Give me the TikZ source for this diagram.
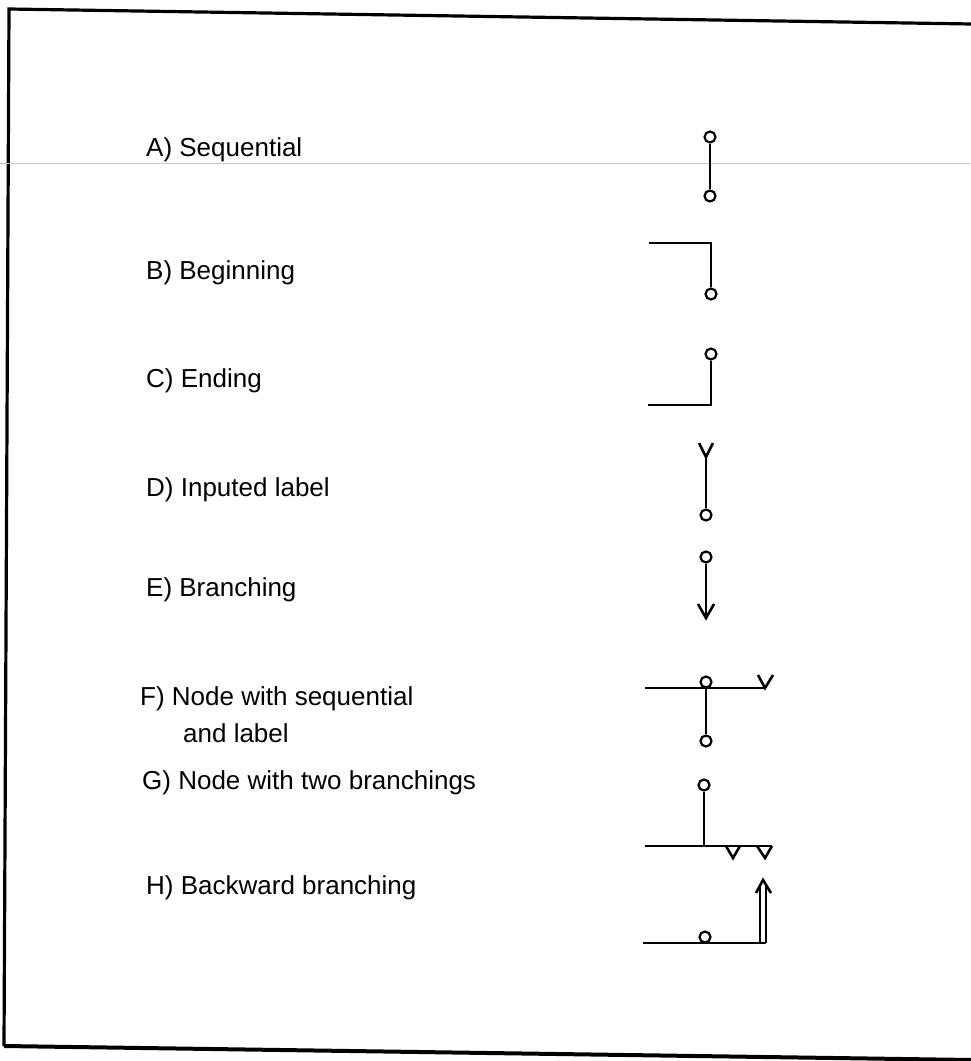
\documentclass[tikz,border=0pt]{standalone}
\usepackage{fontspec}
\setmainfont{Liberation Sans}
\begin{document}
\begin{tikzpicture}[x=1pt,y=-1pt,line join=miter,
  frame/.style={line width=3.2pt},
  sym/.style={line width=2.6pt},
  pin/.style={circle,draw,line width=2.2pt,minimum size=11pt,inner sep=0pt},
  lab/.style={anchor=base west,font=\fontsize{26}{37}\selectfont,inner sep=0pt,align=left}]
\useasboundingbox (0,0) rectangle (970,1061);
% frame
\coordinate (tr) at (972,24);
\coordinate (tl) at (9,9);
\coordinate (bl) at (4,1046);
\coordinate (br) at (972,1060);
\draw[frame] (tr) -- (tl) -- (bl);
\draw[line width=4pt] (bl) -- (br);
% scan artifact line
\coordinate (s0) at (0,163);
\coordinate (s1) at (970,163);
\draw[gray!45,line width=0.7pt] (s0) -- (s1);
% labels
\node[lab] (la) at (146,156) {A) Sequential};
\node[lab] (lb) at (146,279) {B) Beginning};
\node[lab] (lc) at (146,387) {C) Ending};
\node[lab] (ld) at (146,496) {D) Inputed label};
\node[lab] (le) at (146,596) {E) Branching};
\node[lab] (lf) at (140,742) {F) Node with sequential\\\hspace*{43pt}and label};
\node[lab] (lg) at (142,789) {G) Node with two branchings};
\node[lab] (lh) at (146,894) {H) Backward branching};
% A
\node[pin] (a1) at (710,137) {};
\node[pin] (a2) at (710,196) {};
\draw[sym] (a1) -- (a2);
% B
\coordinate (b0) at (649,243);
\coordinate (b1) at (711,243);
\node[pin] (b2) at (711,294) {};
\draw[sym] (b0) -- (b1) -- (b2);
% C
\node[pin] (c1) at (711,354) {};
\coordinate (c2) at (711,405);
\coordinate (c3) at (648,405);
\draw[sym] (c1) -- (c2) -- (c3);
% D
\coordinate (d0) at (706,457);
\coordinate (dl) at (699,443);
\coordinate (dr) at (713,443);
\node[pin] (d1) at (706,515) {};
\draw[sym] (dl) -- (d0) -- (dr);
\draw[sym] (d0) -- (d1);
% E
\node[pin] (e1) at (706,557) {};
\coordinate (e2) at (706,618);
\coordinate (el) at (698,604);
\coordinate (er) at (714,604);
\draw[sym] (e1) -- (e2);
\draw[sym] (el) -- (e2) -- (er);
% F
\coordinate (f0) at (645,688);
\coordinate (f1) at (765,688);
\coordinate (fl) at (758,675);
\coordinate (fr) at (773,675);
\node[pin] (f2) at (706,682) {};
\node[pin] (f3) at (706,741) {};
\draw[sym] (f0) -- (f1);
\draw[sym] (fl) -- (f1) -- (fr);
\draw[sym] (f2) -- (f3);
% G
\node[pin] (g1) at (704,785) {};
\coordinate (g2) at (704,846);
\coordinate (g0) at (645,846);
\coordinate (g3) at (772,846);
\draw[sym] (g1) -- (g2);
\draw[sym] (g0) -- (g3);
\coordinate (ga) at (726,846);
\coordinate (gb) at (733,858);
\coordinate (gc) at (740,846);
\coordinate (gd) at (757,846);
\coordinate (ge) at (765,858);
\coordinate (gf) at (772,846);
\draw[sym] (ga) -- (gb) -- (gc);
\draw[sym] (gd) -- (ge) -- (gf);
% H
\coordinate (h0) at (643,943);
\coordinate (h1) at (766,943);
\node[pin] (h2) at (705,937) {};
\draw[sym] (h0) -- (h1);
\coordinate (hl0) at (760,943);
\coordinate (hl1) at (760,885);
\coordinate (hr1) at (766,885);
\coordinate (ha) at (756,893);
\coordinate (hb) at (763,880);
\coordinate (hc) at (771,893);
\draw[sym] (hl1) -- (hl0);
\draw[sym] (h1) -- (hr1);
\draw[sym] (ha) -- (hb) -- (hc);
\end{tikzpicture}
\end{document}
